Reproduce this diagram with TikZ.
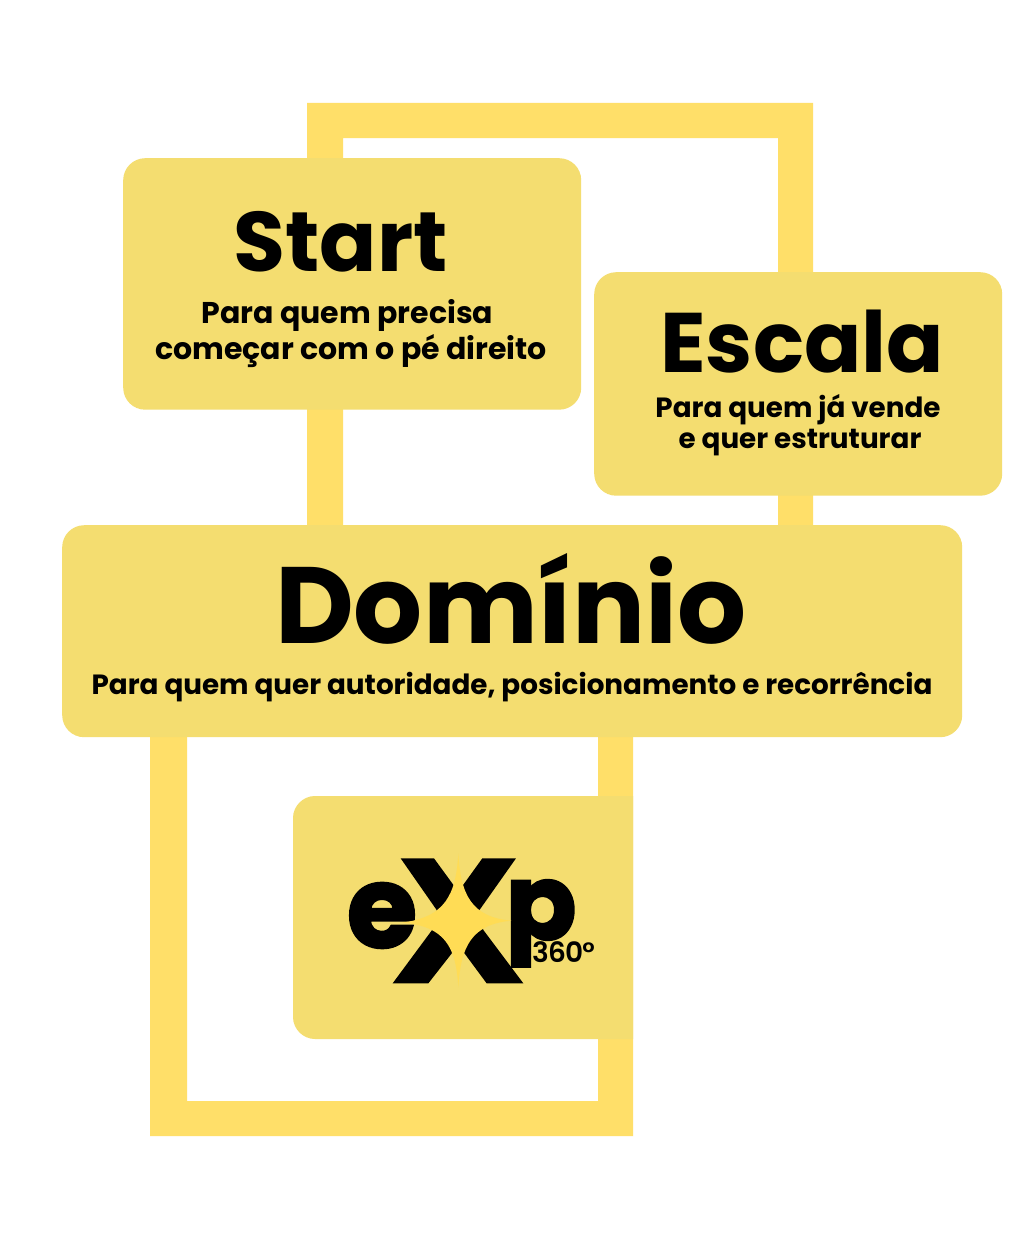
\documentclass[tikz,border=0pt]{standalone}
\usepackage{fontspec}
\setmainfont{Poppins}[BoldFont={* Bold}]
\newfontfamily\logofont{Poppins}[BoldFont={* Bold},BoldFeatures={FakeBold=2.5}]
\newfontfamily\degfont{Poppins SemiBold}[LetterSpace=-3]
\definecolor{boxc}{HTML}{F4DD70}
\definecolor{framec}{HTML}{FFDF69}
\definecolor{starc}{HTML}{FFDC55}
\newcommand{\fs}[1]{\fontsize{#1}{#1}\selectfont\bfseries}
\newcommand{\fm}[1]{\fontsize{#1}{#1}\selectfont}
\tikzset{x=1pt,y=-1pt,
 card/.style={fill=boxc,draw=none,rounded corners=22pt,inner sep=0pt,anchor=north west},
 frameline/.style={fill=framec,draw=none,even odd rule},
 txt/.style={anchor=base,inner sep=0pt,text=black}}
\begin{document}
\begin{tikzpicture}
\useasboundingbox (0,0) rectangle (1024,1236);
\fill[white] (0,0) rectangle (1024,1236);
\path[frameline] (307,600) -- (307,103) -- (813,103) -- (813,600) -- (778,600) -- (778,138) -- (343,138) -- (343,600) -- cycle;
\path[frameline] (150,700) -- (150,1136) -- (633,1136) -- (633,700) -- (598,700) -- (598,1101) -- (187,1101) -- (187,700) -- cycle;
\node[card,minimum width=458pt,minimum height=251.5pt] (start) at (123,158) {};
\node[card,minimum width=408pt,minimum height=223.5pt] (escala) at (594,272) {};
\node[card,minimum width=900pt,minimum height=212pt] (dominio) at (62,525) {};
\path[fill=boxc] (633,796) -- (315,796) .. controls (303,796) and (293,806) .. (293,818) -- (293,1017) .. controls (293,1029) and (303,1039) .. (315,1039) -- (633,1039) -- cycle;
\node[txt] (t1) at (340.5,271) {\fs{84.5}Start};
\node[txt] (t2) at (347.5,323) {\fs{30}Para quem precisa};
\node[txt] (t3) at (351,359) {\fs{30}começar com o pé direito};
\node[txt] (t4) at (802,372) {\fs{84.5}Escala};
\node[txt] (t5) at (798,417) {\fs{27.8}Para quem já vende};
\node[txt] (t6) at (800,448) {\fs{27.8}e quer estruturar};
\node[txt] (t7) at (511,643.5) {\fs{108.5}Domínio};
\node[txt] (t8) at (512,694) {\fs{27.8}Para quem quer autoridade, posicionamento e recorrência};
% logo
\node[txt] (le) at (382,947) {\logofont\fs{113}e};
\node[txt] (lp) at (541,939) {\logofont\fs{104}p};
\begin{scope}[shift={(290,790)},x=0.3333pt,y=-0.3333pt]
\fill[black] (332,205) -- (432,205) -- (505,305) -- (577,205) -- (678,205) -- (565,365) -- (580,420) -- (700,580) -- (590,580) -- (505,465) -- (415,580) -- (308,580) -- (430,415) -- (440,360) -- cycle;
\fill[starc] (505,190) .. controls (512,315) and (545,382) .. (665,392) .. controls (545,402) and (512,470) .. (505,592) .. controls (498,470) and (465,408) .. (335,398) .. controls (465,382) and (498,315) .. (505,190) -- cycle;
\end{scope}
\node[txt] (l3) at (563.5,962) {\degfont\fm{28}360°};
\end{tikzpicture}
\end{document}
